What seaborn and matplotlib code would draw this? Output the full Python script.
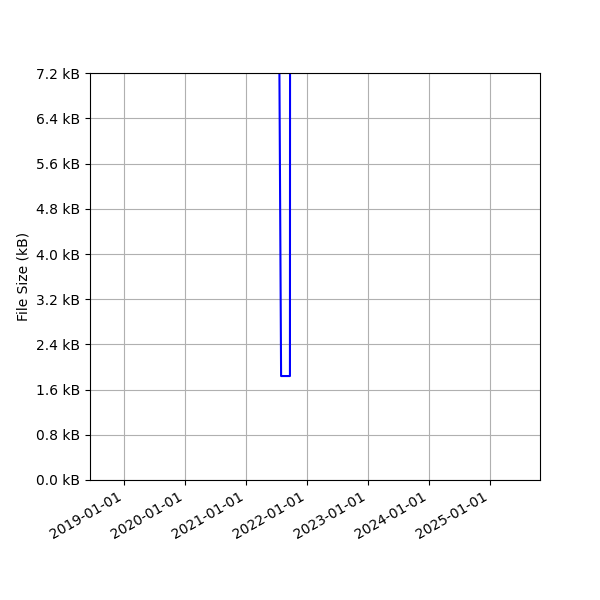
import pandas as pd
import matplotlib
matplotlib.use("Agg")
import matplotlib.pyplot as plt
import matplotlib.dates as mdates
import seaborn as sns

# Estilo por defecto de matplotlib (texto negro, ejes negros)
plt.rcParams['font.family'] = ['DejaVu Sans']

# Datos (tamaño en kB)
dates = ["2021-07-10", "2021-07-29", "2021-09-20", "2021-09-21"]
sizes_kb = [12.0, 1.84, 1.84, 12.0]
y_ticks = [0.0, 0.8, 1.6, 2.4, 3.2, 4.0, 4.8, 5.6, 6.4, 7.2]

df = pd.DataFrame({"date": pd.to_datetime(dates), "size": sizes_kb})

fig, ax = plt.subplots(figsize=(6, 6), dpi=100)
sns.lineplot(data=df, x="date", y="size", color="blue", linewidth=1.5, ax=ax, sort=False)

ax.set_xlim(pd.Timestamp("2018-06-11"), pd.Timestamp("2025-10-26"))
ax.set_ylim(0, 7.2)
ax.set_yticks(y_ticks)
ax.set_yticklabels([f"{t:.1f} kB" for t in y_ticks])
ax.xaxis.set_major_locator(mdates.YearLocator())
ax.xaxis.set_major_formatter(mdates.DateFormatter("%Y-%m-%d"))
ax.set_xlabel("")
ax.set_ylabel("File Size (kB)")
ax.grid(True)

fig.autofmt_xdate()
fig.subplots_adjust(left=0.15, right=0.9, top=0.878, bottom=0.2)
fig.savefig("out.png")
